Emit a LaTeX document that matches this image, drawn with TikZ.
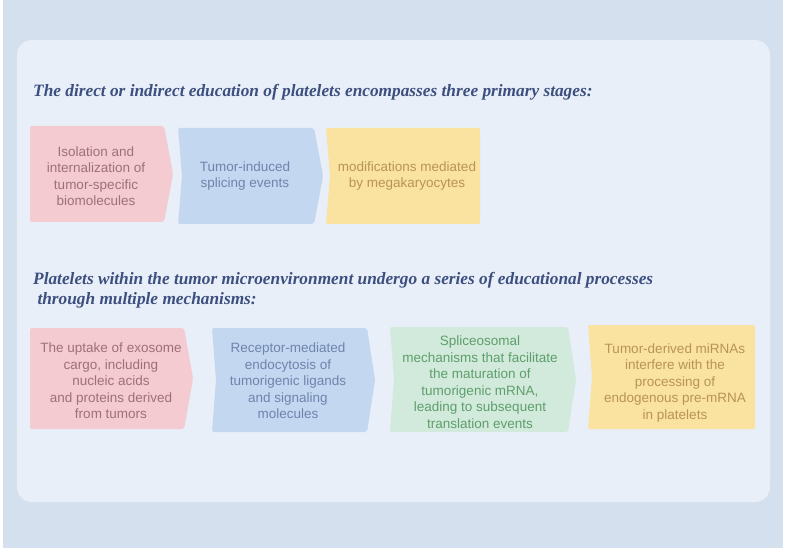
\documentclass[tikz,border=0pt]{standalone}
\usepackage{fontspec}
\setmainfont{Liberation Serif}
\setsansfont{Liberation Sans}
\definecolor{outerbg}{HTML}{D5E0EE}
\definecolor{panelbg}{HTML}{E8EFF8}
\definecolor{titlec}{HTML}{3D4F7F}
\definecolor{pinkf}{HTML}{F3CBD1}
\definecolor{pinkt}{HTML}{A07078}
\definecolor{bluef}{HTML}{C4D7F0}
\definecolor{bluet}{HTML}{6F84AD}
\definecolor{yellf}{HTML}{FAE2A0}
\definecolor{yellt}{HTML}{B89458}
\definecolor{greenf}{HTML}{D2EADB}
\definecolor{greent}{HTML}{5E9E6C}
\tikzset{
  titletext/.style={anchor=base west, inner sep=0pt, font=\fontsize{17.3}{20}\selectfont\bfseries\itshape, text=titlec},
  boxtext/.style={align=center, inner sep=0pt, font=\sffamily\fontsize{13.5}{16.5}\selectfont},
}
% chevron: #1 left, #2 top, #3 right, #4 bottom, #5 tip depth, #6 notch depth
\newcommand{\chev}[7]{%
  \fill[#7, rounded corners=2pt] (#1,#2) -- (#3,#2)
    .. controls ({#3+0.6*#5},{#2+0.25*(#4-#2)}) .. ({#3+#5},{(#2+#4)/2})
    .. controls ({#3+0.6*#5},{#2+0.75*(#4-#2)}) .. (#3,#4)
    -- (#1,#4) -- ({#1+#6},{(#2+#4)/2}) -- cycle;}
\begin{document}
\begin{tikzpicture}[x=1pt,y=-1pt]
\useasboundingbox (0,0) rectangle (787,553);
\fill[white] (0,0) rectangle (787,553);
\fill[outerbg] (3,0) rectangle (783,548);
\fill[panelbg, rounded corners=15pt] (17,40) rectangle (770,502);
% row 1
\node[titletext] (t1) at (33,97) {The direct or indirect education of platelets encompasses three primary stages:};
\chev{30}{126}{164}{222}{9}{0}{pinkf}
\chev{178}{128}{314}{224}{9}{4}{bluef}
\chev{326}{128}{480}{224}{0}{4}{yellf}
\node[boxtext, text=pinkt] (a1) at (96,176) {Isolation and\\internalization of\\tumor-specific\\biomolecules};
\node[boxtext, text=bluet] (a2) at (245,176) {Tumor-induced\\splicing events};
\node[boxtext, text=yellt] (a3) at (407,176) {modifications mediated\\by megakaryocytes};
% row 2
\node[titletext] (t2) at (33,285) {Platelets within the tumor microenvironment undergo a series of educational processes};
\node[titletext] (t3) at (33,305) {\ through multiple mechanisms:};
\chev{30}{328}{184}{429}{9}{0}{pinkf}
\chev{212}{328}{367}{432}{8}{4}{bluef}
\chev{390}{327}{568}{432}{8}{4}{greenf}
\chev{588}{325}{755}{429}{0}{4}{yellf}
\node[boxtext, text=pinkt] (b1) at (111,381) {The uptake of exosome\\cargo, including\\nucleic acids\\and proteins derived\\from tumors};
\node[boxtext, text=bluet] (b2) at (288,381) {Receptor-mediated\\endocytosis of\\tumorigenic ligands\\and signaling\\molecules};
\node[boxtext, text=greent] (b3) at (480,382) {Spliceosomal\\mechanisms that facilitate\\the maturation of\\tumorigenic mRNA,\\leading to subsequent\\translation events};
\node[boxtext, text=yellt] (b4) at (675,383) {Tumor-derived miRNAs\\interfere with the\\processing of\\endogenous pre-mRNA\\in platelets};
\end{tikzpicture}
\end{document}
